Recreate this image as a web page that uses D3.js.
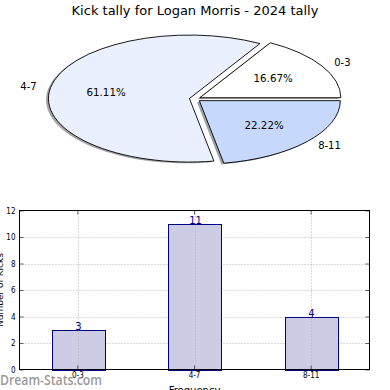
<!DOCTYPE html>
<html>
<head>
<meta charset="utf-8">
<script src="https://cdn.jsdelivr.net/npm/d3@7"></script>
<style>
    body { margin: 0; background: #fff; }
    svg { display: block; }
</style>
</head>
<body>
<div id="wrapper"></div>
<script>
// data
const chartTitle = "Kick tally for Logan Morris - 2024 tally"
const categories = ["0-3", "4-7", "8-11"]
const kickCounts = [3, 11, 4]
const yTicks = [0, 2, 4, 6, 8, 10, 12]
const sliceColors = ["#ffffff", "#eaf0fd", "#c6d9fd"]

function drawChart() {
    const width = 390
    const height = 390
    const narrow = "'Liberation Sans Narrow', 'DejaVu Sans Condensed', 'DejaVu Sans', sans-serif"

    const wrapper = d3.select("#wrapper")
        .append("svg")
        .attr("width", width)
        .attr("height", height)

    wrapper.append("rect")
        .attr("width", width)
        .attr("height", height)
        .attr("fill", "#fff")

    wrapper.append("text")
        .attr("x", width / 2)
        .attr("y", 15)
        .attr("text-anchor", "middle")
        .style("font-family", "'DejaVu Sans', sans-serif")
        .style("font-size", "13px")
        .attr("fill", "#000")
        .text(chartTitle)

    // ---- pie (squashed, exploded, with shadow) ----
    const pie = { cx: 195, cy: 99, rx: 141, ry: 63.5, explode: 0.04 }
    const px = d3.scaleLinear().domain([-1, 1]).range([pie.cx - pie.rx, pie.cx + pie.rx])
    const py = d3.scaleLinear().domain([-1, 1]).range([pie.cy + pie.ry, pie.cy - pie.ry])

    const total = d3.sum(kickCounts)
    const slices = d3.pie().sort(null).startAngle(0).endAngle(2 * Math.PI)(kickCounts)
        .map((d, i) => {
            const mid = (d.startAngle + d.endAngle) / 2
            return {
                ...d,
                label: categories[i],
                color: sliceColors[i],
                mid: mid,
                dx: pie.explode * Math.cos(mid),
                dy: pie.explode * Math.sin(mid)
            }
        })

    // angles counter-clockwise from 3 o'clock, like matplotlib
    function wedgePath(d, ox, oy) {
        const x0 = d.dx + ox
        const y0 = d.dy + oy
        const s = d.startAngle
        const e = d.endAngle
        const large = e - s > Math.PI ? 1 : 0
        const rxp = px(1) - px(0)
        const ryp = py(0) - py(1)
        return `M${px(x0)},${py(y0)}`
            + `L${px(x0 + Math.cos(s))},${py(y0 + Math.sin(s))}`
            + `A${rxp},${ryp} 0 ${large} 0 ${px(x0 + Math.cos(e))},${py(y0 + Math.sin(e))}Z`
    }

    const pieGroup = wrapper.append("g")

    pieGroup.selectAll(".shadow")
        .data(slices)
        .enter().append("path")
        .attr("class", "shadow")
        .attr("d", d => wedgePath(d, -0.017, -0.02))
        .attr("fill", d => {
            const c = d3.rgb(d.color)
            return d3.rgb(c.r * 0.3, c.g * 0.3, c.b * 0.3)
        })
        .attr("fill-opacity", 0.5)

    pieGroup.selectAll(".wedge")
        .data(slices)
        .enter().append("path")
        .attr("class", "wedge")
        .attr("d", d => wedgePath(d, 0, 0))
        .attr("fill", d => d.color)
        .attr("stroke", "#000")
        .attr("stroke-width", 0.9)
        .attr("stroke-linejoin", "miter")

    pieGroup.selectAll(".slice-label")
        .data(slices)
        .enter().append("text")
        .attr("class", "slice-label")
        .attr("x", d => px(d.dx + 1.1 * Math.cos(d.mid)))
        .attr("y", d => py(d.dy + 1.1 * Math.sin(d.mid)))
        .attr("dy", "0.35em")
        .attr("text-anchor", d => Math.cos(d.mid) > 0 ? "start" : "end")
        .style("font-family", "'DejaVu Sans', sans-serif")
        .style("font-size", "10px")
        .text(d => d.label)

    pieGroup.selectAll(".pct-label")
        .data(slices)
        .enter().append("text")
        .attr("class", "pct-label")
        .attr("x", d => px(d.dx + 0.6 * Math.cos(d.mid)))
        .attr("y", d => py(d.dy + 0.6 * Math.sin(d.mid)))
        .attr("dy", "0.35em")
        .attr("text-anchor", "middle")
        .style("font-family", "'DejaVu Sans', sans-serif")
        .style("font-size", "10.3px")
        .text(d => (d.value / total * 100).toFixed(2) + "%")

    // ---- bar chart ----
    const frame = { left: 19.5, right: 369.5, top: 210.5, bottom: 369.5 }

    const xScale = d3.scaleBand()
        .domain(categories)
        .range([frame.left, frame.right])
        .paddingInner(0.55)
        .paddingOuter(0.275)

    const yScale = d3.scaleLinear()
        .domain([0, 12])
        .range([frame.bottom, frame.top])

    const bars = wrapper.append("g")

    // grid
    bars.append("g")
        .selectAll("line")
        .data(yTicks.slice(1, -1))
        .enter().append("line")
        .attr("x1", frame.left)
        .attr("x2", frame.right)
        .attr("y1", d => Math.round(yScale(d)) + 0.5)
        .attr("y2", d => Math.round(yScale(d)) + 0.5)
        .attr("stroke", "#b4b4b4")
        .attr("stroke-dasharray", "1,2")

    const centerX = d => Math.round(xScale(d) + xScale.bandwidth() / 2) + 0.5

    bars.selectAll("rect.bar")
        .data(categories)
        .enter().append("rect")
        .attr("class", "bar")
        .attr("x", d => Math.round(xScale(d)) + 0.5)
        .attr("width", Math.round(xScale.bandwidth()))
        .attr("y", (d, i) => Math.round(yScale(kickCounts[i])) + 0.5)
        .attr("height", (d, i) => Math.round(yScale(0)) - Math.round(yScale(kickCounts[i])))
        .attr("fill", "#ccccE5")
        .attr("stroke", "#000080")
        .attr("stroke-width", 1)

    bars.append("g")
        .selectAll("line")
        .data(categories)
        .enter().append("line")
        .attr("x1", centerX)
        .attr("x2", centerX)
        .attr("y1", frame.top)
        .attr("y2", frame.bottom)
        .attr("stroke", "#b4b4b4")
        .attr("stroke-dasharray", "1,2")

    // value labels
    bars.selectAll("text.value")
        .data(categories)
        .enter().append("text")
        .attr("class", "value")
        .attr("x", centerX)
        .attr("y", (d, i) => yScale(kickCounts[i]) + 0.5)
        .attr("text-anchor", "middle")
        .attr("fill", "#000080")
        .style("font-family", "'DejaVu Sans', sans-serif")
        .style("font-size", "10px")
        .text((d, i) => kickCounts[i])

    // axes
    bars.append("g")
        .attr("transform", `translate(${frame.left},0)`)
        .call(d3.axisLeft(yScale).tickValues(yTicks).tickSize(-4).tickPadding(4))
    bars.append("g")
        .attr("transform", `translate(${frame.right},0)`)
        .call(d3.axisRight(yScale).tickValues(yTicks).tickSize(-4).tickFormat(""))
    bars.append("g")
        .attr("transform", `translate(0,${frame.bottom})`)
        .call(d3.axisBottom(xScale).tickSize(-4).tickPadding(3))
    bars.append("g")
        .attr("transform", `translate(0,${frame.top})`)
        .call(d3.axisTop(xScale).tickSize(-4).tickFormat(""))

    bars.selectAll(".domain").remove()
    bars.selectAll(".tick line").attr("stroke", "#000").attr("stroke-width", 0.6)
    bars.selectAll(".tick text")
        .style("font-family", narrow)
        .style("font-size", "8px")
        .attr("fill", "#000")

    bars.append("rect")
        .attr("x", frame.left)
        .attr("y", frame.top)
        .attr("width", frame.right - frame.left)
        .attr("height", frame.bottom - frame.top)
        .attr("fill", "none")
        .attr("stroke", "#000")
        .attr("stroke-width", 1)

    bars.append("text")
        .attr("x", (frame.left + frame.right) / 2)
        .attr("y", 394)
        .attr("text-anchor", "middle")
        .style("font-family", "'DejaVu Sans', sans-serif")
        .style("font-size", "10px")
        .text("Frequency")

    // y label sits mostly outside the picture, like the reference
    bars.append("text")
        .attr("transform", `translate(2.5,${(frame.top + frame.bottom) / 2}) rotate(-90)`)
        .attr("text-anchor", "middle")
        .style("font-family", "'DejaVu Sans', sans-serif")
        .style("font-size", "9px")
        .text("Number of Kicks")

    // watermark
    wrapper.append("text")
        .attr("x", 0)
        .attr("y", 385)
        .attr("textLength", 102)
        .attr("lengthAdjust", "spacingAndGlyphs")
        .attr("fill", "#8c8c8c")
        .attr("fill-opacity", 0.9)
        .style("font-family", "'Open Sans', sans-serif")
        .style("font-weight", 600)
        .style("font-size", "14px")
        .text("Dream-Stats.com")
}

drawChart()
</script>
</body>
</html>
